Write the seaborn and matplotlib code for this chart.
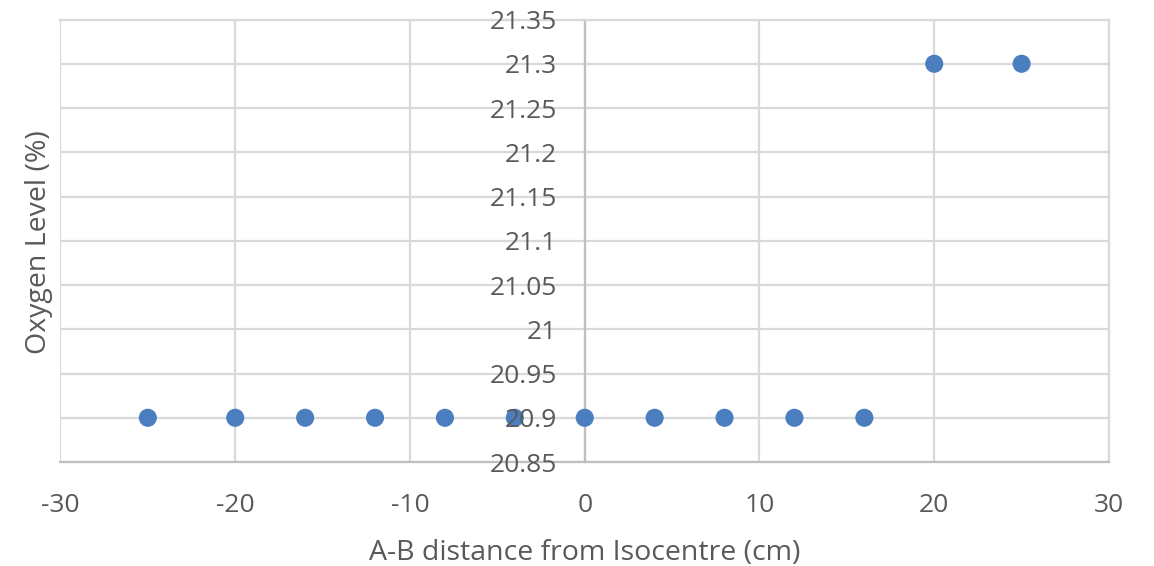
import matplotlib
matplotlib.use('Agg')
import matplotlib.pyplot as plt
import matplotlib.transforms as mtransforms
import seaborn as sns
import pandas as pd

# values
distance = [-25, -20, -16, -12, -8, -4, 0, 4, 8, 12, 16, 20, 25]
oxygen = [20.9, 20.9, 20.9, 20.9, 20.9, 20.9, 20.9, 20.9, 20.9, 20.9, 20.9, 21.3, 21.3]
x_ticks = [-30, -20, -10, 0, 10, 20, 30]
y_ticks = [20.85, 20.9, 20.95, 21, 21.05, 21.1, 21.15, 21.2, 21.25, 21.3, 21.35]

data = pd.DataFrame({'Distance': distance, 'Oxygen': oxygen})

sns.set_style("white")
plt.rcParams['font.family'] = ['Open Sans', 'DejaVu Sans']

fig = plt.figure(figsize=(11.54, 5.66), dpi=100)
ax = fig.add_axes([0.0524, 0.1837, 0.9086, 0.7818])

sns.scatterplot(x='Distance', y='Oxygen', data=data, color='#4A7EBF', s=170,
                edgecolor='none', ax=ax, zorder=3)

ax.set_xlim(-30, 30)
ax.set_ylim(20.85, 21.35)
ax.set_xticks(x_ticks)
ax.set_yticks(y_ticks)
ax.set_xticklabels([str(t) for t in x_ticks])
ax.set_yticklabels([])

# Excel-like gridlines
ax.grid(True, color='#D9D9D9', linewidth=1.6, zorder=0)
ax.set_axisbelow(True)

# vertical axis crosses at x = 0
ax.spines['left'].set_position(('data', 0))
for side in ['left', 'bottom']:
    ax.spines[side].set_color('#BFBFBF')
    ax.spines[side].set_linewidth(1.6)
for side in ['top', 'right']:
    ax.spines[side].set_color('#D9D9D9')
    ax.spines[side].set_linewidth(1.6)

ax.tick_params(axis='both', length=0, labelsize=19, labelcolor='#595959')
ax.tick_params(axis='x', pad=22)

# y tick labels sit next to the centre axis, drawn on top of the markers (like Excel)
label_trans = mtransforms.offset_copy(ax.transData, fig=fig, x=-20, y=0, units='points')
for t in y_ticks:
    ax.text(0, t, f'{t:g}', transform=label_trans, ha='right', va='center_baseline',
            fontsize=19, color='#595959', zorder=5, clip_on=False)

ax.set_xlabel('')
ax.set_ylabel('')
fig.text(0.5065, 0.0106, 'A-B distance from Isocentre (cm)', fontsize=20.5, color='#595959',
         ha='center', va='baseline')
fig.text(0.034, 0.5716, 'Oxygen Level (%)', rotation=90, fontsize=20.5, color='#595959',
         ha='center', va='center')

plt.savefig('out.png', dpi=100)
